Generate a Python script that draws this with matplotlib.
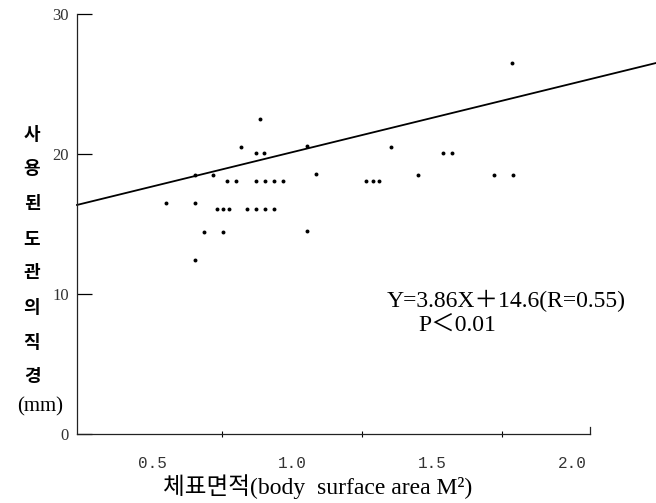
import matplotlib.pyplot as plt

# body surface area (M^2) vs tube diameter (mm)
bsa = [0.886, 0.818, 0.871, 0.900, 1.054, 1.354, 1.786,
       0.718, 1.086, 0.654,
       0.768, 0.800, 0.871, 0.904, 0.936, 0.968, 1.264, 1.289, 1.311,
       1.54, 1.57, 1.45, 1.72, 1.79,
       0.550, 0.654,
       0.732, 0.754, 0.775, 0.839, 0.871, 0.904, 0.936,
       0.686, 0.754, 1.054,
       0.654]
diam = [22.5, 20.5, 20.1, 20.1, 20.6, 20.5, 26.5,
        18.5, 18.6, 18.5,
        18.1, 18.1, 18.1, 18.1, 18.1, 18.1, 18.1, 18.1, 18.1,
        20.1, 20.1, 18.5, 18.5, 18.5,
        16.5, 16.5,
        16.1, 16.1, 16.1, 16.1, 16.1, 16.1, 16.1,
        14.4, 14.4, 14.5,
        12.4]

# regression line as drawn in the figure
line_x = [0.232, 2.30]
line_y = [16.36, 26.5]

xticks = [0.5, 1.0, 1.5, 2.0]
xticklabels = ['0.5', '1.0', '1.5', '2.0']
yticks = [0, 10, 20, 30]
ylabel_chars = ['사', '용', '된', '도', '관', '의', '직', '경']

fig = plt.figure(figsize=(6.56, 5.03), dpi=100)
ax = fig.add_axes([0.1174, 0.1372, 0.782, 0.835])
ax.set_xlim(0.232, 2.064)
ax.set_ylim(0, 30)

for s in ['top', 'right']:
    ax.spines[s].set_visible(False)
for s in ['left', 'bottom']:
    ax.spines[s].set_linewidth(0.9)
    ax.spines[s].set_color('#222222')

ax.plot(line_x, line_y, color='black', lw=1.3, clip_on=False)
ax.scatter(bsa, diam, s=8, color='black', linewidths=0, clip_on=False, zorder=3)
# little upturn at right end of x axis
ax.plot([2.064, 2.064], [0, 0.5], color='#222222', lw=0.9, clip_on=False)

ax.set_xticks(xticks)
ax.set_xticklabels(xticklabels, family='Liberation Mono', fontsize=11.5, color='#333333')
ax.set_xticks([0.75, 1.25, 1.75], minor=True)
ax.tick_params(axis='x', which='major', length=0, pad=16)
ax.tick_params(axis='x', which='minor', direction='inout', length=5, width=0.8)

ax.set_yticks(yticks)
ax.set_yticklabels([str(v) for v in yticks], family='Liberation Serif', fontsize=12, color='#333333')
ax.tick_params(axis='y', direction='in', length=11, width=0.9, pad=6)

for i, ch in enumerate(ylabel_chars):
    fig.text(32 / 656, 1 - (134 + i * 34.7) / 503, ch, ha='center', va='center',
             fontsize=13, family='Noto Sans CJK KR', weight='bold')
fig.text(40 / 656, 1 - 407 / 503, '(mm)', ha='center', va='center',
         fontsize=15, family='Liberation Serif')

fig.text(318 / 656, 1 - 487 / 503, '체표면적(body  surface area M²)', ha='center', va='center',
         fontsize=17, family=['Liberation Serif', 'Noto Sans CJK KR'])

fig.text(387 / 656, 1 - 301 / 503, 'Y=3.86X＋14.6(R=0.55)', ha='left', va='center',
         fontsize=17, family=['Liberation Serif', 'Noto Sans CJK KR'])
fig.text(418 / 656, 1 - 325 / 503, 'P＜0.01', ha='left', va='center',
         fontsize=17, family=['Liberation Serif', 'Noto Sans CJK KR'])

fig.savefig('out.png', dpi=100)
